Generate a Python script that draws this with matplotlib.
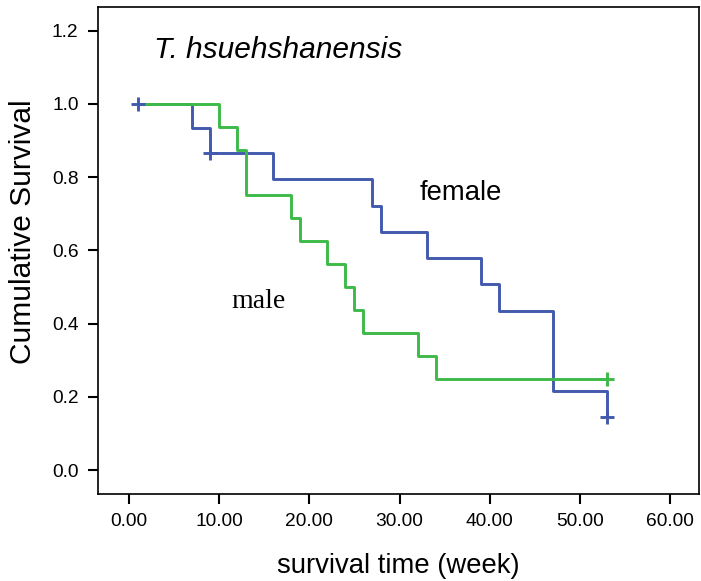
import matplotlib
matplotlib.use("Agg")
import matplotlib.pyplot as plt

# Data
female_times = [1, 7, 9, 16, 27, 28, 33, 39, 41, 47, 53]
female_surv = [1.0, 0.933, 0.867, 0.794, 0.722, 0.651, 0.578, 0.507, 0.434, 0.217, 0.145]
female_cens_t = [1, 9, 53]
female_cens_s = [1.0, 0.867, 0.145]

male_times = [1, 10, 12, 13, 18, 19, 22, 24, 25, 26, 32, 34, 53]
male_surv = [1.0, 0.9375, 0.875, 0.75, 0.6875, 0.625, 0.5625, 0.5, 0.4375, 0.375, 0.3125, 0.25, 0.25]
male_cens_t = [53]
male_cens_s = [0.25]

xticks = [0, 10, 20, 30, 40, 50, 60]
xtick_labels = ["0.00", "10.00", "20.00", "30.00", "40.00", "50.00", "60.00"]
yticks = [0.0, 0.2, 0.4, 0.6, 0.8, 1.0, 1.2]
ytick_labels = ["0.0", "0.2", "0.4", "0.6", "0.8", "1.0", "1.2"]

blue = "#4259AD"
green = "#3DBA48"

plt.rcParams['font.family'] = ['Liberation Sans', 'DejaVu Sans']

fig = plt.figure(figsize=(7.01, 5.81), dpi=100)
ax = fig.add_axes([0.1398, 0.1497, 0.997 - 0.1398, 0.988 - 0.1497])

ax.step(female_times, female_surv, where='post', color=blue, lw=2.1, zorder=2)
ax.step(male_times, male_surv, where='post', color=green, lw=2.1, zorder=3)
ax.plot(female_cens_t, female_cens_s, ls='none', marker='+', ms=10, mew=2.1, color=blue, zorder=4)
ax.plot(male_cens_t, male_cens_s, ls='none', marker='+', ms=10, mew=2.1, color=green, zorder=4)

ax.set_xlim(-3.44, 63.2)
ax.set_ylim(-0.0656, 1.265)
ax.set_xticks(xticks)
ax.set_xticklabels(xtick_labels)
ax.set_yticks(yticks)
ax.set_yticklabels(ytick_labels)
ax.tick_params(direction='out', length=7, width=1.5, labelsize=13.8, pad=7)
for s in ax.spines.values():
    s.set_linewidth(1.2)

ax.set_xlabel("survival time (week)", fontsize=19.8)
ax.xaxis.set_label_coords(0.5, -0.122)
ax.set_ylabel("Cumulative Survival", fontsize=21.5)
ax.yaxis.set_label_coords(-0.102, 0.538)

ax.text(2.8, 1.148, "T. hsuehshanensis", fontsize=21.5, style='italic', va='center', ha='left')
ax.text(32.2, 0.757, "female", fontsize=19.8, va='center', ha='left')
ax.text(11.4, 0.46, "male", fontsize=20, va='center', ha='left', family=['Liberation Serif'])

fig.savefig("out.png", dpi=100)
